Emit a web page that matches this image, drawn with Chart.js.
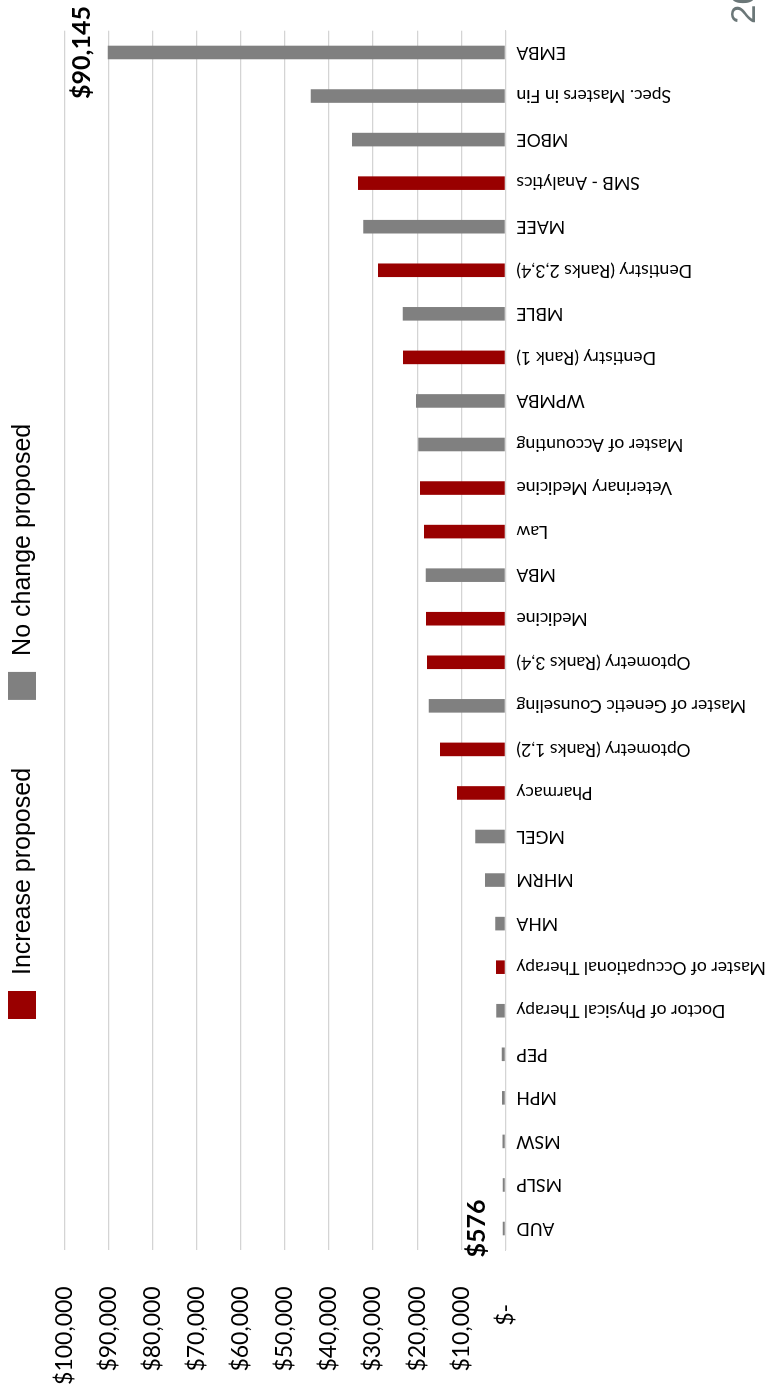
<!DOCTYPE html>
<html>
<head>
<meta charset="utf-8">
<script src="https://cdn.jsdelivr.net/npm/chart.js@4.4.1/dist/chart.umd.min.js"></script>
<style>
  html, body { margin: 0; padding: 0; background: #fff; overflow: hidden; width: 777px; height: 1384px; }
  /* the chart is laid out landscape and turned a quarter turn to stand on the page */
  #frame { position: absolute; left: 0; top: 0; width: 1384px; height: 777px;
           transform-origin: 0 0; transform: translateY(1384px) rotate(-90deg); background: #fff; }
  canvas { display: block; }
</style>
</head>
<body>
<div id="frame"><canvas id="chart" width="1384" height="777"></canvas></div>
<script>
// Programs, ordered from lowest to highest tuition
const categories = [
  'AUD', 'MSLP', 'MSW', 'MPH', 'PEP',
  'Doctor of Physical Therapy', 'Master of Occupational Therapy', 'MHA', 'MHRM', 'MGEL',
  'Pharmacy', 'Optometry (Ranks 1,2)', 'Master of Genetic Counseling', 'Optometry (Ranks 3,4)', 'Medicine',
  'MBA', 'Law', 'Veterinary Medicine', 'Master of Accounting', 'WPMBA',
  'Dentistry (Rank 1)', 'MBLE', 'Dentistry (Ranks 2,3,4)', 'MAEE', 'SMB - Analytics',
  'MBOE', 'Spec. Masters in Fin', 'EMBA'
];
const tuition = [
  576, 620, 680, 760, 800,
  2100, 2150, 2300, 4620, 6820,
  10970, 14830, 17390, 17770, 18000,
  18070, 18450, 19360, 19740, 20270,
  23210, 23280, 28880, 32210, 33420,
  34780, 44140, 90145
];
// 1 = increase proposed, 0 = no change proposed
const increaseProposed = [
  0, 0, 0, 0, 0,
  0, 1, 0, 0, 0,
  1, 1, 0, 1, 1,
  0, 1, 1, 0, 0,
  1, 0, 1, 0, 1,
  0, 0, 0
];
const seriesNames = ['Increase proposed', 'No change proposed'];
const seriesColors = ['#990000', '#808080'];
const valueTicks = [0, 10000, 20000, 30000, 40000, 50000, 60000, 70000, 80000, 90000, 100000];
const labelledPrograms = ['AUD', 'EMBA'];
const pageMarker = '20';

const money = v => '$' + v.toLocaleString('en-US');

const datasets = seriesNames.map((name, s) => ({
  label: name,
  data: tuition.map((v, i) => (increaseProposed[i] === (s === 0 ? 1 : 0) ? v : null)),
  backgroundColor: seriesColors[s],
  borderWidth: 0,
  grouped: false,
  categoryPercentage: 1,
  barPercentage: 0.312
}));

// Legend row across the top
const seriesKey = {
  id: 'seriesKey',
  afterDraw(chart) {
    const ctx = chart.ctx;
    ctx.save();
    ctx.font = '25px "Liberation Sans", Arial, sans-serif';
    ctx.textBaseline = 'alphabetic';
    let x = 365;
    chart.data.datasets.forEach(ds => {
      ctx.fillStyle = ds.backgroundColor;
      ctx.fillRect(x, 8, 28, 28);
      ctx.fillStyle = '#000';
      ctx.fillText(ds.label, x + 44, 30);
      x += 44 + ctx.measureText(ds.label).width + 68;
    });
    // page marker in the corner
    ctx.font = '35px "Liberation Sans", Arial, sans-serif';
    ctx.fillStyle = '#6b7778';
    ctx.fillText(pageMarker, 1360, 755);
    ctx.restore();
  }
};

// Value callouts for the cheapest and the most expensive program
const valueCallouts = {
  id: 'valueCallouts',
  afterDatasetsDraw(chart) {
    const ctx = chart.ctx;
    ctx.save();
    ctx.font = 'bold 25px Lato, "Liberation Sans", sans-serif';
    ctx.fillStyle = '#000';
    ctx.textAlign = 'center';
    ctx.textBaseline = 'alphabetic';
    labelledPrograms.forEach(name => {
      const i = categories.indexOf(name);
      chart.data.datasets.forEach((ds, d) => {
        const v = ds.data[i];
        if (v == null) return;
        const bar = chart.getDatasetMeta(d).data[i];
        ctx.fillText(money(v), bar.x, bar.y - 18);
      });
    });
    ctx.restore();
  }
};

function draw() {
  new Chart(document.getElementById('chart'), {
    type: 'bar',
    data: { labels: categories, datasets },
    options: {
      responsive: false,
      animation: false,
      layout: { padding: { top: 64.3, right: 30.7, left: 0, bottom: 0 } },
      plugins: { legend: { display: false }, tooltip: { enabled: false } },
      scales: {
        x: {
          type: 'category',
          offset: true,
          grid: { display: false, drawTicks: false },
          border: { display: true, color: '#d4d4d4', width: 1 },
          ticks: {
            autoSkip: false, maxRotation: 90, minRotation: 90, padding: 11,
            color: '#000', font: { family: 'Lato', size: 17.6 }
          },
          afterFit(scale) { scale.height = 271.6; }
        },
        y: {
          min: 0, max: 100000,
          afterBuildTicks(scale) { scale.ticks = valueTicks.map(v => ({ value: v })); },
          grid: { color: '#d4d4d4', lineWidth: 1.2, drawTicks: false },
          border: { display: false },
          ticks: {
            padding: 36, color: '#000', font: { family: 'Lato', size: 23 },
            callback: v => (v === 0 ? '$-   ' : money(v))
          },
          afterFit(scale) { scale.width = 133.7; }
        }
      }
    },
    plugins: [valueCallouts, seriesKey]
  });
}

Promise.all([
  document.fonts.load('17px Lato'),
  document.fonts.load('bold 25px Lato'),
  document.fonts.load('25px "Liberation Sans"')
]).then(draw, draw);
</script>
</body>
</html>
